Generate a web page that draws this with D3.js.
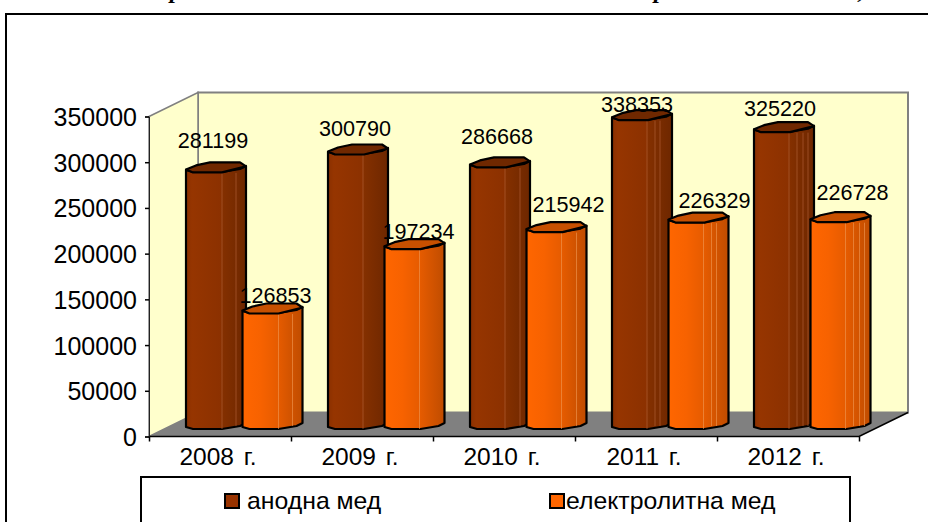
<!DOCTYPE html>
<html><head><meta charset="utf-8">
<script src="https://cdn.jsdelivr.net/npm/d3@7/dist/d3.min.js"></script>
<style>html,body{margin:0;padding:0;background:#fff}svg{display:block}text{font-family:"Liberation Sans",Arial,sans-serif;fill:#000}</style>
</head><body><svg id="c" width="928" height="522"></svg>
<script>
const categories = ["2008 г.","2009 г.","2010 г.","2011 г.","2012 г."];
const seriesNames = ["анодна мед","електролитна мед"];
const anode = [281199,300790,286668,338353,325220];
const electrolytic = [126853,197234,215942,226329,226728];
const yTicks = [0,50000,100000,150000,200000,250000,300000,350000];
const titleFragments = ["р","р",","];

// layout (style constants, not data)
const plot = {x0:149,x1:859,y0:436.5,y1:116.5,dx:49,dy:-24};
const barBaseY = plot.y0-8.5, barW = 60;
const seriesOffset = [37,93.5];
const labelLift = [[23,17,22,7,15],[9,9,19,13,21]];
const labelShift = [[-3,-3,-3,-5,-4],[3,4,12,16,12]];
const facetLines = [[36,50],[35],[35,50],[35,43,48],[35,43,49,54]];
const colors = [
 {stops:[["0","#8a3000"],[".1","#963500"],[".57","#8c3100"],[".6","#843000"],["1","#6e2700"]],top:"#702800",sw:"#993300",line:"#b5653a"},
 {stops:[["0","#ff6600"],[".3","#f76200"],[".6","#e55b00"],["1","#bf4c00"]],top:"#c75000",sw:"#ff6600",line:"#f19a55"}
];

const svg = d3.select("#c");
const y = d3.scaleLinear().domain([0,350000]).range([plot.y0,plot.y1]);
const x = d3.scaleBand().domain(categories).range([plot.x0,plot.x1]);
const xEdges = d3.scaleLinear().domain([0,categories.length]).range([plot.x0,plot.x1]);

const defs = svg.append("defs");
colors.forEach((c,i)=>{
  const g = defs.append("linearGradient").attr("id","g"+i).attr("x1",0).attr("x2",1).attr("y1",0).attr("y2",0);
  c.stops.forEach(s=>g.append("stop").attr("offset",s[0]).attr("stop-color",s[1]));
});

// clipped title fragments at the page top
const titleX = [176,660,861];
svg.selectAll("text.title").data(titleFragments).join("text").attr("class","title")
  .attr("x",(d,i)=>titleX[i]).attr("y",-2).attr("text-anchor","middle")
  .style("font-family","'Liberation Serif',serif").style("font-weight","bold").style("font-style","italic").style("font-size","24px").text(d=>d);

// outer frame
svg.append("rect").attr("x",6).attr("y",14).attr("width",940).attr("height",540).attr("fill","#fff").attr("stroke","#000").attr("stroke-width",2);

// walls and floor
const {x0,x1,y0,y1,dx,dy} = plot;
svg.append("rect").attr("x",x0+dx).attr("y",y1+dy).attr("width",x1-x0).attr("height",y0-y1).attr("fill","#ffffcc").attr("stroke","#808080").attr("stroke-width",2);
svg.append("polygon").attr("points",[[x0,y1],[x0+dx,y1+dy],[x0+dx,y0+dy],[x0,y0]].join(" ")).attr("fill","#ffffcc").attr("stroke","#808080").attr("stroke-width",1.5);
svg.append("polygon").attr("points",[[x0,y0],[x0+dx,y0+dy],[x1+dx,y0+dy],[x1,y0]].join(" ")).attr("fill","#808080");
svg.append("path").attr("d",`M${x0},${y0}L${x1},${y0}L${x1+dx},${y0+dy}`).attr("fill","none").attr("stroke","#000").attr("stroke-width",1.5);

// y axis
const yAxis = svg.append("g").attr("transform",`translate(${x0},0)`)
  .call(d3.axisLeft(y).tickValues(yTicks).tickSize(4).tickPadding(8).tickFormat(d3.format("d")));
yAxis.select(".domain").attr("stroke","#222").attr("stroke-width",1);
yAxis.selectAll(".tick line").attr("stroke","#000").attr("stroke-width",1.5);
yAxis.selectAll("text").style("font-size","25px").attr("dy","0.36em");

// x axis: tick marks at band edges, labels at band centres
const xTicks = svg.append("g").attr("transform",`translate(0,${y0})`)
  .call(d3.axisBottom(xEdges).ticks(categories.length).tickSize(5).tickFormat(""));
xTicks.select(".domain").remove();
xTicks.selectAll(".tick line").attr("stroke","#000").attr("stroke-width",1.5);
const xLab = svg.append("g").attr("transform",`translate(-2,${y0})`)
  .call(d3.axisBottom(x).tickSize(0).tickPadding(20));
xLab.select(".domain").remove();
xLab.selectAll("text").style("font-size","24.5px").style("word-spacing","3px").attr("dy","0.36em");

// bars: octagonal cylinders
function drawBar(g,left,h,si,ci){
  const top = barBaseY-h;
  const front = [[0,0],[7,2],[36,2],[54,-1],[60,-4]];
  const body = [];
  front.forEach(p=>body.push([left+p[0],top-1+p[1]]));
  front.slice().reverse().forEach(p=>body.push([left+p[0],barBaseY-1+p[1]]));
  g.append("polygon").attr("points",body.join(" ")).attr("fill",`url(#g${si})`).attr("stroke","#000").attr("stroke-width",2.2).attr("stroke-linejoin","round");
  facetLines[ci].forEach(o=>{
    g.append("line").attr("x1",left+o).attr("x2",left+o).attr("y1",top+2).attr("y2",barBaseY+(o>40?-2:1))
     .attr("stroke",colors[si].line).attr("stroke-width",1).attr("opacity",.6);
  });
  const cap = [[0,-1],[7,2],[36,2],[60,-4],[54,-8],[24,-8],[10,-5]].map(p=>[left+p[0],top+p[1]-0.5]);
  g.append("polygon").attr("points",cap.join(" ")).attr("fill",colors[si].top).attr("stroke","#000").attr("stroke-width",2.2).attr("stroke-linejoin","round");
}
const bars = svg.append("g");
const seriesVals = [anode,electrolytic];
categories.forEach((c,ci)=>{
  seriesVals.forEach((vals,si)=>{
    const h = y(0)-y(vals[ci]);
    drawBar(bars,x(c)+seriesOffset[si],h,si,ci);
  });
});

// data labels
seriesVals.forEach((vals,si)=>{
  svg.append("g").selectAll("text").data(vals).join("text")
   .attr("x",(d,i)=>x(categories[i])+seriesOffset[si]+barW/2+labelShift[si][i])
   .attr("y",(d,i)=>barBaseY-(y(0)-y(d))-labelLift[si][i])
   .attr("text-anchor","middle").style("font-size","21.6px").text(d=>d);
});

// legend
svg.append("rect").attr("x",141).attr("y",477).attr("width",709).attr("height",60).attr("fill","#fff").attr("stroke","#000").attr("stroke-width",2);
const legX = [225,550], legTx=[247,566];
seriesNames.forEach((n,i)=>{
  svg.append("rect").attr("x",legX[i]).attr("y",494).attr("width",14).attr("height",14).attr("fill",colors[i].sw).attr("stroke","#000").attr("stroke-width",2);
  svg.append("text").attr("x",legTx[i]).attr("y",509).style("font-size","24.8px").text(n);
});
</script></body></html>
